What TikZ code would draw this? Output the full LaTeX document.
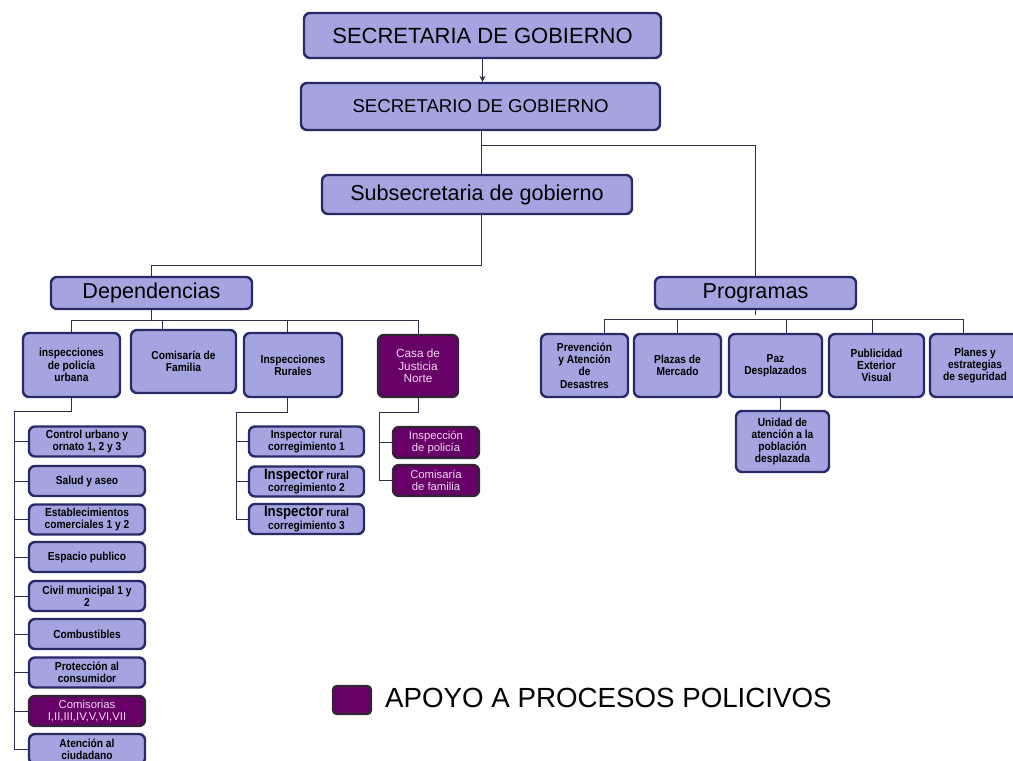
\documentclass[tikz,border=0pt]{standalone}
\usepackage{fontspec}
\setmainfont{Liberation Sans}
\newfontfamily\narrowsans[FakeStretch=0.88]{Liberation Sans}
\usetikzlibrary{arrows.meta}
\definecolor{lav}{RGB}{164,164,224}
\definecolor{navy}{RGB}{40,42,104}
\definecolor{purp}{RGB}{102,0,102}
\definecolor{pborder}{RGB}{50,36,52}
\definecolor{ptext}{RGB}{245,215,245}
\definecolor{linkc}{RGB}{45,45,80}
\newcommand\boxfont{\narrowsans\bfseries\fontsize{11.6}{12.3}\selectfont}
\newcommand\purpfont{\fontsize{11.3}{12.3}\selectfont}
\newcommand\bigfont[1]{\fontsize{#1}{#1}\selectfont}
\begin{document}
\begin{tikzpicture}[x=1pt,y=-1pt,
  box/.style={draw=navy, line width=2.4pt, fill=lav, rounded corners=6pt,
    align=center, inner sep=1pt, font=\boxfont},
  pbox/.style={box, draw=pborder, fill=purp, text=ptext, font=\purpfont},
  link/.style={draw=linkc, line width=0.9pt},
  title/.style={box, font=\bigfont{21.6}},
  urb/.style={box, minimum width=116, minimum height=30},
  rur/.style={box, minimum width=115, minimum height=30},
  cas/.style={pbox, minimum width=86, minimum height=31},
  prg/.style={box, minimum height=63}]
\useasboundingbox (0,0) rectangle (1013,761);

% top of the hierarchy
\node[title, minimum width=357, minimum height=45, font=\bigfont{22}] (secd) at (482.5,35.5) {SECRETARIA DE GOBIERNO};
\node[title, minimum width=359, minimum height=47, font=\bigfont{18.6}] (secr) at (480.5,106.5) {SECRETARIO DE GOBIERNO};
\node[title, minimum width=310, minimum height=39] (subs) at (477,194.5) {Subsecretaria de gobierno};
\node[title, minimum width=201, minimum height=32] (dep) at (151.5,293) {Dependencias};
\node[title, minimum width=201, minimum height=32] (prog) at (755.5,293) {Programas};

% dependencias
\node[box, minimum width=97, minimum height=64] (u0) at (71.5,365) {inspecciones\\de policía\\urbana};
\node[box, minimum width=105, minimum height=63] (c0) at (183.5,361.5) {Comisaría de\\Familia};
\node[box, minimum width=98, minimum height=64] (r0) at (293,365) {Inspecciones\\Rurales};
\node[pbox, minimum width=80, minimum height=62, font=\fontsize{11.8}{12.5}\selectfont] (j0) at (418,366) {Casa de\\Justicia\\Norte};

% inspecciones de policia urbana
\node[urb] (u1) at (87,441.5) {Control urbano y\\ornato 1, 2 y 3};
\node[urb] (u2) at (87,481) {Salud y aseo};
\node[urb] (u3) at (87,519.5) {Establecimientos\\comerciales 1 y 2};
\node[urb] (u4) at (87,557) {Espacio publico};
\node[urb] (u5) at (87,596) {Civil municipal 1 y\\2};
\node[urb] (u6) at (87,634) {Combustibles};
\node[urb] (u7) at (87,672.5) {Protección al\\consumidor};
\node[urb, pbox] (u8) at (87,711) {Comisorias\\I,II,III,IV,V,VI,VII};
\node[urb] (u9) at (87,749) {Atención al\\ciudadano};

% inspecciones rurales
\node[rur] (r1) at (306.5,441.5) {Inspector rural\\corregimiento 1};
\node[rur] (r2) at (306.5,481.5) {{\fontsize{15}{12}\selectfont Inspector} rural\\corregimiento 2};
\node[rur] (r3) at (306.5,519) {{\fontsize{15}{12}\selectfont Inspector} rural\\corregimiento 3};

% casa de justicia
\node[cas] (j1) at (436,442.5) {Inspección\\de policía};
\node[cas] (j2) at (436,480.5) {Comisaría\\de familia};

% programas
\node[prg, minimum width=87] (p1) at (584.5,365.5) {Prevención\\y Atención\\de\\Desastres};
\node[prg, minimum width=87] (p2) at (677.5,365.5) {Plazas de\\Mercado};
\node[prg, minimum width=93] (p3) at (775.5,365.5) {Paz\\Desplazados};
\node[prg, minimum width=95] (p4) at (876.5,365.5) {Publicidad\\Exterior\\Visual};
\node[prg, minimum width=90] (p5) at (975,365.5) {Planes y\\estrategias\\de seguridad};
\node[box, minimum width=93, minimum height=61] (p6) at (782.5,441.5) {Unidad de\\atención a la\\población\\desplazada};

% legend
\node[pbox, minimum width=38, minimum height=28, rounded corners=4pt] (leg) at (352,700) {};
\node[anchor=west, font=\bigfont{27.7}, inner sep=0pt] (legt) at (385,698) {APOYO A PROCESOS POLICIVOS};

% connectors
\draw[link, -{Stealth[length=6pt,width=6pt]}] (secd.south) -- (secd.south |- secr.north);
\coordinate (a1) at (481,145);
\draw[link] (secr.south -| a1) -- (subs.north -| a1);
\draw[link] (a1) -| (prog.north);
\coordinate (b1) at (481,265);
\draw[link] (subs.south -| b1) -- (b1) -| (dep.north);

\coordinate (db) at (151.5,320);
\draw[link] (dep.south) -- (db);
\draw[link] (db) -| (u0.north);
\draw[link] (db) -| ([xshift=-21]c0.north);
\draw[link] (db) -| ([xshift=-6]r0.north);
\draw[link] (db) -| (j0.north);

\coordinate (ub) at (14,411);
\draw[link] (u0.south) |- (ub) -- (ub |- u9.west) -- (u9.west);
\foreach \n in {u1,u2,u3,u4,u5,u6,u7,u8}
  \draw[link] (ub |- \n.west) -- (\n.west);

\coordinate (rb) at (236,412);
\draw[link] ([xshift=-6]r0.south) |- (rb) -- (rb |- r3.west) -- (r3.west);
\foreach \n in {r1,r2}
  \draw[link] (rb |- \n.west) -- (\n.west);

\coordinate (jb) at (379,412);
\draw[link] (j0.south) |- (jb) -- (jb |- j2.west) -- (j2.west);
\draw[link] (jb |- j1.west) -- (j1.west);

\coordinate (pb) at (755.5,319);
\draw[link] (prog.south) -- ([yshift=4]pb);
\draw[link] (pb) -| ([xshift=20]p1.north);
\draw[link] (pb) -| (p2.north);
\draw[link] (pb) -| ([xshift=11]p3.north);
\draw[link] (pb) -| ([xshift=-4]p4.north);
\draw[link] (pb) -| ([xshift=-12]p5.north);
\draw[link] ([xshift=5]p3.south) -- ([xshift=5]p3.south |- p6.north);
\end{tikzpicture}
\end{document}
